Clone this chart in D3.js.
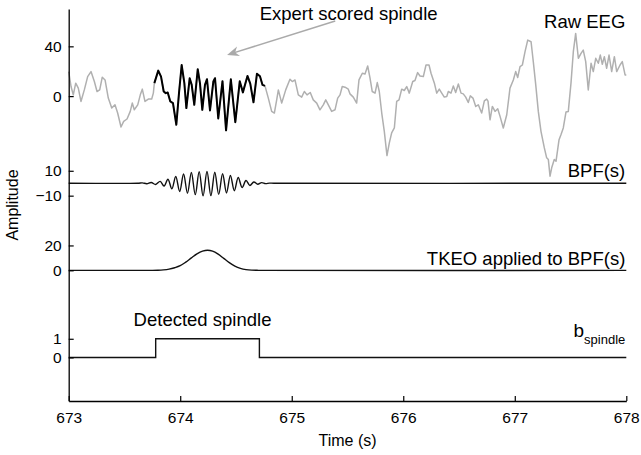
<!DOCTYPE html>
<html>
<head>
<meta charset="utf-8">
<script src="https://cdn.jsdelivr.net/npm/d3@7"></script>
<style>
  body { margin: 0; background: #fff; }
  svg { display: block; font-family: "Liberation Sans", Arial, sans-serif; }
</style>
</head>
<body>
<div id="chart"></div>
<script>
// raw EEG (time in s, amplitude in uV)
var eegTime = [
  673.000, 673.021, 673.041, 673.063, 673.086, 673.110, 673.140, 673.170, 673.200, 673.230,
  673.254, 673.278, 673.301, 673.326, 673.355, 673.386, 673.415, 673.439, 673.469, 673.493,
  673.523, 673.552, 673.570, 673.588, 673.619, 673.642, 673.660, 673.684, 673.714, 673.744,
  673.759, 673.768, 673.803, 673.828, 673.852, 673.870, 673.888, 673.911, 673.935, 673.965,
  673.989, 674.013, 674.037, 674.055, 674.085, 674.103, 674.126, 674.157, 674.177, 674.198,
  674.222, 674.240, 674.267, 674.297, 674.312, 674.341, 674.379, 674.411, 674.454, 674.494,
  674.534, 674.562, 674.603, 674.628, 674.657, 674.688, 674.715, 674.738, 674.760, 674.790,
  674.820, 674.844, 674.865, 674.880, 674.910, 674.946, 674.984, 675.005, 675.029, 675.059,
  675.089, 675.113, 675.137, 675.166, 675.193, 675.224, 675.253, 675.283, 675.305, 675.328,
  675.358, 675.388, 675.412, 675.433, 675.453, 675.478, 675.507, 675.522, 675.552, 675.582,
  675.603, 675.633, 675.657, 675.681, 675.702, 675.722, 675.747, 675.767, 675.785, 675.807,
  675.830, 675.854, 675.875, 675.896, 675.920, 675.941, 675.962, 675.986, 676.009, 676.031,
  676.054, 676.085, 676.105, 676.129, 676.150, 676.180, 676.204, 676.231, 676.249, 676.279,
  676.300, 676.323, 676.345, 676.368, 676.390, 676.404, 676.428, 676.449, 676.470, 676.494,
  676.518, 676.538, 676.560, 676.583, 676.601, 676.625, 676.650, 676.673, 676.703, 676.727,
  676.748, 676.760, 676.778, 676.799, 676.823, 676.847, 676.868, 676.897, 676.928, 676.957,
  676.987, 677.008, 677.026, 677.047, 677.068, 677.092, 677.116, 677.146, 677.166, 677.188,
  677.211, 677.235, 677.265, 677.286, 677.301, 677.316, 677.331, 677.354, 677.370, 677.397,
  677.414, 677.435, 677.459, 677.480, 677.504, 677.525, 677.546, 677.570, 677.594, 677.614,
  677.636, 677.659, 677.684, 677.704, 677.726, 677.749, 677.767, 677.785, 677.803, 677.824,
  677.845, 677.869, 677.893, 677.914, 677.944, 677.964, 677.989, 678.000
];
var eegValues = [
  19.7, 7.7, 1.0, 10.4, 6.4, -4.3, 5.0, 15.7, 19.7, 11.7,
  3.7, 5.0, 15.2, 13.0, -1.6, -9.6, -7.0, -13.6, -24.8, -20.3,
  -18.4, -12.3, -5.6, -11.0, -7.0, 1.0, 5.6, -4.3, -2.4, -2.4,
  2.4, 10.4, 20.5, 15.7, 3.7, 2.4, 2.9, -4.3, -5.6, -23.0,
  2.4, 25.0, 10.4, -9.6, 14.4, 9.0, -7.0, 21.6, 10.4, -11.0,
  9.0, 13.6, -11.5, 11.7, 14.4, -18.0, 12.0, -27.5, 13.5, -21.0,
  12.0, 3.0, 16.2, 10.0, -5.0, 18.0, 16.0, 9.0, 8.2, -1.6,
  -12.3, -13.6, -3.0, 5.0, -5.6, 5.0, 13.6, 11.7, 13.0, 1.0,
  -0.8, 3.7, 1.0, 2.9, -3.0, -5.6, -11.0, -7.0, -3.0, -7.0,
  -12.3, -11.0, -1.6, 1.0, 7.7, 7.2, 5.6, 1.8, -0.8, -5.6,
  13.0, 18.4, 17.8, 24.2, 14.4, 3.7, 2.4, 10.9, 3.7, -13.6,
  -28.3, -47.8, -37.6, -29.6, -25.6, -4.3, -3.0, 5.6, 4.5, 7.7,
  2.4, 11.7, 12.5, 18.9, 16.2, 15.7, 25.0, 25.0, 18.4, 10.4,
  2.4, 5.6, 2.4, -0.8, -0.3, 3.7, 2.4, 8.2, 2.9, 9.8,
  2.4, 1.8, -0.8, -5.1, 0.2, -1.6, -8.3, -7.0, -13.6, -3.8,
  -2.4, -4.0, -19.0, -8.3, -12.3, -10.2, -16.3, -25.6, -15.0, 6.4,
  13.0, 19.7, 14.9, 23.7, 25.0, 35.7, 45.0, 43.7, 27.7, 9.0,
  -12.3, -28.3, -41.6, -49.6, -51.0, -64.3, -57.6, -51.0, -52.3, -35.0,
  -31.0, -25.6, -12.8, -12.3, 10.4, 35.7, 50.4, 30.4, 34.4, 37.0,
  27.7, 5.0, 26.4, 19.7, 30.4, 26.4, 33.0, 25.6, 31.7, 22.4,
  33.0, 19.7, 31.7, 19.7, 25.0, 27.7, 17.0, 17.0
];
// expert scored spindle interval (s)
var scoredSpindle = [673.768, 674.760];

// band-pass filtered signal
var bpfTime = [
  673.00, 673.62, 673.66, 673.70, 673.74, 673.78, 673.82, 673.855, 673.89, 673.925,
  673.96, 673.995, 674.03, 674.065, 674.10, 674.135, 674.17, 674.205, 674.24, 674.275,
  674.31, 674.345, 674.38, 674.415, 674.45, 674.485, 674.52, 674.555, 674.59, 674.625,
  674.66, 674.695, 674.73, 674.765, 674.80, 674.84, 678.00
];
var bpfValues = [
  0, 0, 0.3, -0.4, 0.6, -1.0, 1.5, -2.2, 3.2, -4.5,
  5.4, -6.6, 7.4, -8.0, 8.6, -9.2, 9.3, -10.2, 9.4, -10.0,
  8.8, -9.0, 7.6, -7.8, 6.2, -6.0, 4.6, -3.4, 2.2, -1.8,
  1.0, -0.8, 0.5, -0.3, 0.1, 0, 0
];

// TKEO of the BPF signal
var tkeoTime = [
  673.00, 673.75, 673.80, 673.85, 673.90, 673.95, 674.00, 674.05, 674.10, 674.15,
  674.20, 674.245, 674.29, 674.34, 674.39, 674.44, 674.49, 674.54, 674.59, 674.64,
  674.70, 678.00
];
var tkeoValues = [
  0, 0, 0.1, 0.4, 1.0, 2.1, 3.7, 6.6, 10.0, 13.2,
  15.4, 16.1, 15.4, 13.0, 9.6, 6.2, 3.4, 1.6, 0.6, 0.15,
  0, 0
];

// detection output
var bTime = [673.00, 673.78, 674.71, 678.00];
var bValues = [0, 1, 0, 0];

// stacked trace offsets (same amplitude units), b_spindle scaled up
var traceOffsets = [0, -70, -140, -210];
var bGain = 15;

var xTicks = [673, 674, 675, 676, 677, 678];
var yTickValues = [-210, -195, -140, -120, -80, -60, 0, 40];
var yTickLabels = ["0", "1", "0", "20", "\u221210", "10", "0", "40"];

var width = 641, height = 455;
var plotLeft = 68.7, plotRight = 626.3, plotTop = 9, plotBottom = 401;

var svg = d3.select("#chart").append("svg")
  .attr("width", width)
  .attr("height", height);

var x = d3.scaleLinear().domain([673, 678]).range([plotLeft, plotRight]);
var y = d3.scaleLinear().domain([-245, 70]).range([plotBottom, plotTop]);

function trace(times, vals, offset, gain) {
  return times.map(function(t, i) { return [t, vals[i] * (gain || 1) + offset]; });
}

var smooth = d3.line()
  .x(function(d) { return x(d[0]); })
  .y(function(d) { return y(d[1]); })
  .curve(d3.curveCatmullRom.alpha(0.5));

var plain = d3.line()
  .x(function(d) { return x(d[0]); })
  .y(function(d) { return y(d[1]); });

var step = d3.line()
  .x(function(d) { return x(d[0]); })
  .y(function(d) { return y(d[1]); })
  .curve(d3.curveStepAfter);

// raw EEG, grey, then the scored part in black on top
var eeg = trace(eegTime, eegValues, traceOffsets[0]);
svg.append("path")
  .attr("d", plain(eeg))
  .attr("fill", "none")
  .attr("stroke", "#b0b0b0")
  .attr("stroke-width", 1.5)
  .attr("stroke-linejoin", "round");

svg.append("path")
  .attr("d", plain(eeg.filter(function(d) { return d[0] >= scoredSpindle[0] && d[0] <= scoredSpindle[1]; })))
  .attr("fill", "none")
  .attr("stroke", "#000")
  .attr("stroke-width", 2)
  .attr("stroke-linejoin", "round");

svg.append("path")
  .attr("d", smooth(trace(bpfTime, bpfValues, traceOffsets[1])))
  .attr("fill", "none")
  .attr("stroke", "#111")
  .attr("stroke-width", 1.4);

svg.append("path")
  .attr("d", smooth(trace(tkeoTime, tkeoValues, traceOffsets[2])))
  .attr("fill", "none")
  .attr("stroke", "#111")
  .attr("stroke-width", 1.4);

svg.append("path")
  .attr("d", step(trace(bTime, bValues, traceOffsets[3], bGain)))
  .attr("fill", "none")
  .attr("stroke", "#111")
  .attr("stroke-width", 1.4);

// axes
var xAxis = svg.append("g")
  .attr("transform", "translate(0," + plotBottom + ")")
  .call(d3.axisBottom(x).tickValues(xTicks).tickFormat(d3.format("d"))
    .tickSizeInner(-5).tickSizeOuter(0).tickPadding(11));

var yAxis = svg.append("g")
  .attr("transform", "translate(" + plotLeft + ",0)")
  .call(d3.axisLeft(y).tickValues(yTickValues)
    .tickFormat(function(d, i) { return yTickLabels[i]; })
    .tickSizeInner(-5).tickSizeOuter(0).tickPadding(7));

[xAxis, yAxis].forEach(function(g) {
  g.select(".domain").attr("stroke", "#000").attr("stroke-width", 1.3);
  g.selectAll(".tick line").attr("stroke", "#000").attr("stroke-width", 1.2);
  g.selectAll(".tick text").attr("fill", "#000").style("font-size", "15.5px")
    .style("font-family", "'Liberation Sans', Arial, sans-serif");
});

svg.append("text")
  .attr("x", (plotLeft + plotRight) / 2)
  .attr("y", 446)
  .attr("text-anchor", "middle")
  .style("font-size", "16px")
  .text("Time (s)");

svg.append("text")
  .attr("transform", "translate(18,205) rotate(-90)")
  .attr("text-anchor", "middle")
  .style("font-size", "16px")
  .text("Amplitude");

// trace labels
var labelSize = "18.5px";
function rightLabel(v, txt) {
  return svg.append("text")
    .attr("x", x(678) - 1)
    .attr("y", y(v))
    .attr("text-anchor", "end")
    .style("font-size", labelSize)
    .text(txt);
}
rightLabel(54.5, "Raw EEG");
rightLabel(traceOffsets[1] + 5.2, "BPF(s)");
rightLabel(traceOffsets[2] + 4.3, "TKEO applied to BPF(s)");

var bLab = svg.append("text")
  .attr("x", x(678) - 1)
  .attr("y", y(traceOffsets[3] + 16.4))
  .attr("text-anchor", "end")
  .style("font-size", "19px")
  .text("b");
bLab.append("tspan")
  .attr("dy", 6.5)
  .style("font-size", "13px")
  .text("spindle");

svg.append("text")
  .attr("x", x(674.2))
  .attr("y", y(traceOffsets[3] + 25.3))
  .attr("text-anchor", "middle")
  .style("font-size", labelSize)
  .text("Detected spindle");

// annotation arrow for the expert scored spindle
svg.append("text")
  .attr("x", x(675.51))
  .attr("y", y(61.3))
  .attr("text-anchor", "middle")
  .style("font-size", labelSize)
  .text("Expert scored spindle");

var a0 = [x(675.39), y(60.3)], a1 = [x(674.42), y(33.1)];
var ang = Math.atan2(a1[1] - a0[1], a1[0] - a0[0]);
svg.append("line")
  .attr("x1", a0[0]).attr("y1", a0[1])
  .attr("x2", a1[0] - 6 * Math.cos(ang)).attr("y2", a1[1] - 6 * Math.sin(ang))
  .attr("stroke", "#aaa")
  .attr("stroke-width", 1.5);
svg.append("path")
  .attr("d", "M0,0L-12,-5L-8.5,0L-12,5Z")
  .attr("transform", "translate(" + a1[0] + "," + a1[1] + ") rotate(" + (ang * 180 / Math.PI) + ")")
  .attr("fill", "#aaa");
</script>
</body>
</html>
